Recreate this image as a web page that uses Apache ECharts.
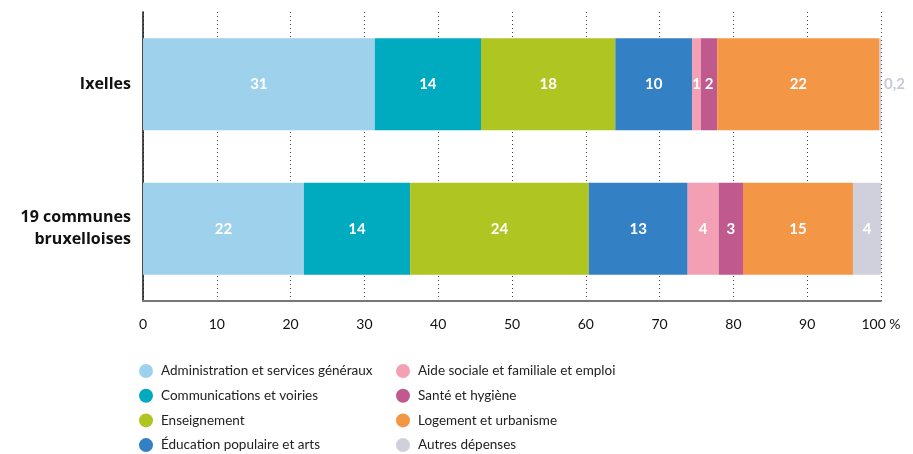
<!DOCTYPE html>
<html><head><meta charset="utf-8">
<script src="https://cdn.jsdelivr.net/npm/echarts@6/dist/echarts.min.js"></script>
<style>html,body{margin:0;padding:0;background:#fff}#c{width:913px;height:454px}</style>
</head><body><div id="c"></div>
<script>
const categories = ['Ixelles', '19 communes\nbruxelloises'];
const seriesNames = ['Administration et services généraux','Communications et voiries','Enseignement','Éducation populaire et arts','Aide sociale et familiale et emploi','Santé et hygiène','Logement et urbanisme','Autres dépenses'];
const adminValues = [31.4, 21.8];
const commValues = [14.4, 14.4];
const enseignValues = [18.2, 24.2];
const educValues = [10.4, 13.4];
const aideValues = [1.2, 4.2];
const santeValues = [2.2, 3.3];
const logementValues = [22.0, 14.9];
const autresValues = [0.2, 3.8];
const xTicks = [0,10,20,30,40,50,60,70,80,90,100];
const colors = ['#9dd1ec','#00aabf','#afc521','#3380c4','#f3a0b4','#c05a8e','#f39645','#d0cfdc'];
const allValues = [adminValues, commValues, enseignValues, educValues, aideValues, santeValues, logementValues, autresValues];

const fmt = v => v < 1 ? String(v).replace('.', ',') : String(Math.round(v));
const series = seriesNames.map((n, i) => ({
  name: n, type: 'bar', stack: 'total', barWidth: 92,
  itemStyle: {color: colors[i]},
  label: {show: true, position: 'inside', color: '#fff', fontSize: 15, fontFamily: 'Lato, sans-serif', fontWeight: 'bold',
    formatter: p => fmt(p.value)},
  data: allValues[i].map(v => v < 1 ? {value: v, label: {position: 'right', color: '#c9c8d8', distance: 3}} : v)
}));

const chart = echarts.init(document.getElementById('c'));
const legendCommon = {orient: 'vertical', icon: 'circle', itemWidth: 14, itemHeight: 14, itemGap: 10.7, padding: 0, height: 100,
  textStyle: {fontSize: 13.5, color: '#222', fontFamily: 'Lato, sans-serif', padding: [0,0,0,3]}};
chart.setOption({
  animation: false,
  grid: {left: 143, right: 32, top: 12, bottom: 153},
  xAxis: {type: 'value', min: 0, max: 100, interval: 10,
    axisLine: {show: true, lineStyle: {color: '#777', width: 2}},
    axisTick: {show: false},
    splitLine: {show: true, lineStyle: {color: '#444', type: [1, 3], width: 1}},
    axisLabel: {margin: 16, fontSize: 14, color: '#111', fontFamily: 'Lato, sans-serif',
      formatter: v => v === 100 ? '100 %' : String(v)}
  },
  yAxis: {type: 'category', data: categories, inverse: true,
    axisLine: {show: true, lineStyle: {color: '#111', width: 1.5}},
    axisTick: {show: false},
    axisLabel: {margin: 12, fontSize: 16, fontWeight: 'bold', color: '#111', align: 'right', lineHeight: 22, fontFamily: 'Open Sans, sans-serif'}
  },
  legend: [
    Object.assign({left: 139, top: 364, data: seriesNames.slice(0,4)}, legendCommon),
    Object.assign({left: 396, top: 364, data: seriesNames.slice(4)}, legendCommon)
  ],
  series: series
});
</script></body></html>
